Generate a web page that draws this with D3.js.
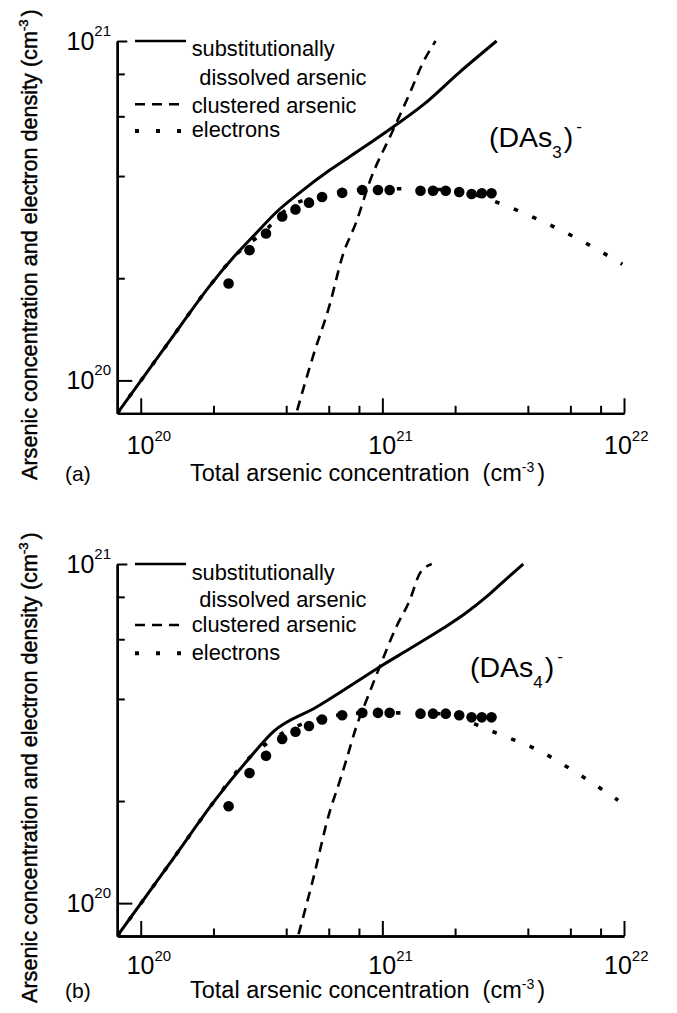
<!DOCTYPE html>
<html><head><meta charset="utf-8">
<script src="https://cdn.jsdelivr.net/npm/d3@7"></script>
<style>
body{margin:0;background:#fff}
svg{display:block}
text{font-family:"Liberation Sans",Arial,Helvetica,sans-serif;fill:#000;white-space:pre}
</style></head><body>
<svg id="chart" width="677" height="1013"></svg>
<script>
// ---------- data ----------
const xDomain = [8e19, 1e22];
const yDomain = [8e19, 1e21];
const xMajorTicks = [1e20, 1e21, 1e22];
const xMinorTicks = [2e20, 4e20, 6e20, 8e20, 2e21, 4e21, 6e21, 8e21];
const yMajorTicks = [1e20, 1e21];
const yMinorTicks = [2e20, 4e20, 6e20, 8e20];
const xTickExponents = ["20", "21", "22"];
const yTickExponents = ["20", "21"];
const legendLabels = ["substitutionally", "dissolved arsenic", "clustered arsenic", "electrons"];
const panelLetters = ["(a)", "(b)"];
const clusterSubscripts = ["3", "4"];

// panel (a)
const subXa = [8e19, 1.31e20, 1.92e20, 2.44e20, 3.01e20, 3.64e20, 4.54e20, 6.04e20, 8.05e20, 1.107e21, 1.474e21, 2.09e21, 2.97e21];
const subYa = [8e19, 1.30e20, 1.89e20, 2.32e20, 2.72e20, 3.13e20, 3.57e20, 4.16e20, 4.77e20, 5.58e20, 6.48e20, 8.10e20, 1.0e21];
const clusXa = [4.44e20, 5.15e20, 6.04e20, 6.86e20, 7.80e20, 8.85e20, 1.107e21, 1.30e21, 1.47e21, 1.66e21];
const clusYa = [8.16e19, 1.17e20, 1.66e20, 2.34e20, 2.93e20, 3.84e20, 5.46e20, 7.03e20, 8.61e20, 1.0e21];
const elecXa = [8e19, 1.31e20, 1.92e20, 2.44e20, 3.25e20, 4.12e20, 5.49e20, 8.05e20, 1.18e21, 1.73e21, 2.30e21, 3.07e21, 4.50e21, 6.59e21, 9.84e21];
const elecYa = [8e19, 1.30e20, 1.89e20, 2.32e20, 2.75e20, 3.24e20, 3.49e20, 3.64e20, 3.67e20, 3.65e20, 3.56e20, 3.32e20, 2.96e20, 2.59e20, 2.20e20];
const measX = [2.31e20, 2.82e20, 3.30e20, 3.85e20, 4.37e20, 4.97e20, 5.63e20, 6.82e20, 8.26e20, 9.59e20, 1.072e21, 1.438e21, 1.62e21, 1.83e21, 2.08e21, 2.34e21, 2.58e21, 2.83e21];
const measYa = [1.93e20, 2.42e20, 2.71e20, 3.04e20, 3.19e20, 3.34e20, 3.47e20, 3.57e20, 3.64e20, 3.64e20, 3.64e20, 3.62e20, 3.62e20, 3.62e20, 3.59e20, 3.54e20, 3.56e20, 3.56e20];

// panel (b)
const subXb = [8e19, 1.31e20, 2.05e20, 2.82e20, 3.53e20, 5.32e20, 7.32e20, 9.74e20, 1.323e21, 1.784e21, 2.216e21, 2.70e21, 3.22e21, 3.83e21];
const subYb = [8e19, 1.30e20, 2.03e20, 2.68e20, 3.20e20, 3.78e20, 4.36e20, 4.97e20, 5.67e20, 6.46e20, 7.17e20, 8.01e20, 8.97e20, 1.0e21];
const clusXb = [4.50e20, 5.15e20, 6.04e20, 6.65e20, 7.09e20, 7.80e20, 8.71e20, 9.75e20, 1.143e21, 1.30e21, 1.43e21, 1.60e21];
const clusYb = [8.1e19, 1.165e20, 1.85e20, 2.28e20, 2.64e20, 3.31e20, 4.06e20, 4.98e20, 6.53e20, 7.84e20, 9.39e20, 1.0e21];
const elecXb = [8e19, 1.31e20, 2.05e20, 2.68e20, 3.47e20, 4.54e20, 6.04e20, 8.85e20, 1.30e21, 1.90e21, 2.42e21, 2.97e21, 4.35e21, 6.38e21, 9.46e21];
const elecYb = [8e19, 1.30e20, 2.03e20, 2.59e20, 3.02e20, 3.35e20, 3.55e20, 3.64e20, 3.64e20, 3.60e20, 3.37e20, 3.17e20, 2.84e20, 2.42e20, 2.01e20];
const measYb = [1.93e20, 2.42e20, 2.72e20, 3.05e20, 3.20e20, 3.33e20, 3.48e20, 3.58e20, 3.64e20, 3.64e20, 3.64e20, 3.62e20, 3.62e20, 3.62e20, 3.58e20, 3.53e20, 3.53e20, 3.53e20];

// ---------- layout ----------
const svg = d3.select("#chart");
const X0 = 117.3, X1 = 624;
const panels = [
  {top: 41, bottom: 413.3, sub: [subXa, subYa], clus: [clusXa, clusYa], elec: [elecXa, elecYa], measY: measYa,
   tickBase: 454, titleBase: 480.7, yTitleStart: 480, legY: [41, 56, 85, 104.3, 112.7, 131, 136.7], das: [489, 147]},
  {top: 564, bottom: 936, sub: [subXb, subYb], clus: [clusXb, clusYb], elec: [elecXb, elecYb], measY: measYb,
   tickBase: 974, titleBase: 998, yTitleStart: 1003, legY: [564, 580, 606.7, 625, 631.7, 653.3, 660], das: [470, 677]}
];

const x = d3.scaleLog().domain(xDomain).range([X0, X1]);

panels.forEach((p, pi) => {
  const y = d3.scaleLog().domain(yDomain).range([p.bottom, p.top]);
  const g = svg.append("g");
  const clipId = "clip" + pi;
  svg.append("clipPath").attr("id", clipId).append("rect")
    .attr("x", X0).attr("y", p.top - 3).attr("width", X1 - X0 + 2).attr("height", p.bottom - p.top + 3);

  // axes
  const styleAxis = sel => {
    sel.select(".domain").attr("stroke", "#000").attr("stroke-width", 2.3);
    sel.selectAll(".tick line").attr("stroke", "#000").attr("stroke-width", 2);
  };
  g.append("g").attr("transform", `translate(0,${p.bottom})`)
    .call(d3.axisBottom(x).tickValues(xMajorTicks).tickSize(-15).tickSizeOuter(0).tickFormat(""))
    .call(styleAxis);
  g.append("g").attr("transform", `translate(0,${p.bottom})`)
    .call(d3.axisBottom(x).tickValues(xMinorTicks).tickSize(-7.5).tickSizeOuter(0).tickFormat(""))
    .call(styleAxis);
  g.append("g").attr("transform", `translate(${X0},0)`)
    .call(d3.axisLeft(y).tickValues([yMajorTicks[0]]).tickSize(-15).tickSizeOuter(0).tickFormat(""))
    .call(styleAxis);
  g.append("g").attr("transform", `translate(${X0},0)`)
    .call(d3.axisLeft(y).tickValues([yMajorTicks[1]]).tickSize(-10).tickSizeOuter(0).tickFormat(""))
    .call(styleAxis);
  g.append("g").attr("transform", `translate(${X0},0)`)
    .call(d3.axisLeft(y).tickValues(yMinorTicks).tickSize(-7.5).tickSizeOuter(0).tickFormat(""))
    .call(styleAxis);

  // tick labels
  xMajorTicks.forEach((v, i) => {
    const off = i === xMajorTicks.length - 1 ? -6 : 0;
    const t = g.append("text").attr("x", x(v) - 14 + off).attr("y", p.tickBase).attr("font-size", 25);
    t.append("tspan").text("10");
    t.append("tspan").attr("dy", -13).attr("font-size", 15).text(xTickExponents[i]);
  });
  yMajorTicks.forEach((v, i) => {
    const t = g.append("text").attr("x", 111).attr("y", y(v) + 9).attr("font-size", 25).attr("text-anchor", "end");
    t.append("tspan").text("10");
    t.append("tspan").attr("dy", -14).attr("font-size", 15).text(yTickExponents[i]);
  });

  // axis titles
  const xt = g.append("text").attr("x", 190).attr("y", p.titleBase).attr("font-size", 23.5);
  xt.append("tspan").text("Total arsenic concentration  (cm");
  xt.append("tspan").attr("dy", -9).attr("font-size", 14).text("-3");
  xt.append("tspan").attr("dy", 9).attr("dx", 3).text(")");

  const yt = g.append("text").attr("transform", `translate(36.5,${p.yTitleStart}) rotate(-90)`)
    .attr("font-size", 21.6).attr("stroke", "#000").attr("stroke-width", 0.45);
  yt.append("tspan").text("Arsenic concentration and electron density (cm");
  yt.append("tspan").attr("dy", -9).attr("font-size", 13).text("-3");
  yt.append("tspan").attr("dy", 9).attr("dx", 3).text(")");

  g.append("text").attr("x", 65).attr("y", p.titleBase).attr("font-size", 21).text(panelLetters[pi]);

  // cluster label
  const dl = g.append("text").attr("x", p.das[0]).attr("y", p.das[1]).attr("font-size", 28.5);
  dl.append("tspan").text("(DAs");
  dl.append("tspan").attr("dy", 11).attr("font-size", 17).text(clusterSubscripts[pi]);
  dl.append("tspan").attr("dy", -11).attr("dx", 2).attr("font-size", 28.5).text(")");
  dl.append("tspan").attr("dy", -15).attr("dx", 3).attr("font-size", 17).text("-");

  // lines
  const smooth = d3.line().x(d => x(d[0])).y(d => y(d[1])).curve(d3.curveMonotoneX);
  const plot = g.append("g").attr("clip-path", `url(#${clipId})`);
  const zip = (a, b) => a.map((v, i) => [v, b[i]]);

  plot.append("path").datum(zip(p.elec[0], p.elec[1])).attr("d", smooth)
    .attr("fill", "none").attr("stroke", "#000").attr("stroke-width", 3.6).attr("stroke-dasharray", "4.5,15.5");
  plot.append("path").datum(zip(p.sub[0], p.sub[1])).attr("d", smooth)
    .attr("fill", "none").attr("stroke", "#000").attr("stroke-width", 3).attr("stroke-linejoin", "round");
  plot.append("path").datum(zip(p.clus[0], p.clus[1])).attr("d", smooth)
    .attr("fill", "none").attr("stroke", "#000").attr("stroke-width", 2.6).attr("stroke-dasharray", "10,7");

  plot.selectAll("circle.m").data(zip(measX, p.measY)).enter().append("circle")
    .attr("class", "m").attr("cx", d => x(d[0])).attr("cy", d => y(d[1])).attr("r", 5.3).attr("fill", "#000");

  // legend
  const L = p.legY;
  g.append("line").attr("x1", 135).attr("x2", 186).attr("y1", L[0]).attr("y2", L[0])
    .attr("stroke", "#000").attr("stroke-width", 2.4);
  g.append("line").attr("x1", 135).attr("x2", 180).attr("y1", L[3]).attr("y2", L[3])
    .attr("stroke", "#000").attr("stroke-width", 2.4).attr("stroke-dasharray", "10,7");
  g.append("line").attr("x1", 135).attr("x2", 182).attr("y1", L[5]).attr("y2", L[5])
    .attr("stroke", "#000").attr("stroke-width", 4).attr("stroke-dasharray", "4,17");
  const lt = [[191.7, L[1]], [199.3, L[2]], [191.7, L[4]], [191.7, L[6]]];
  legendLabels.forEach((s, i) => {
    g.append("text").attr("x", lt[i][0]).attr("y", lt[i][1]).attr("font-size", 21.8).text(s);
  });
});
</script>
</body></html>
